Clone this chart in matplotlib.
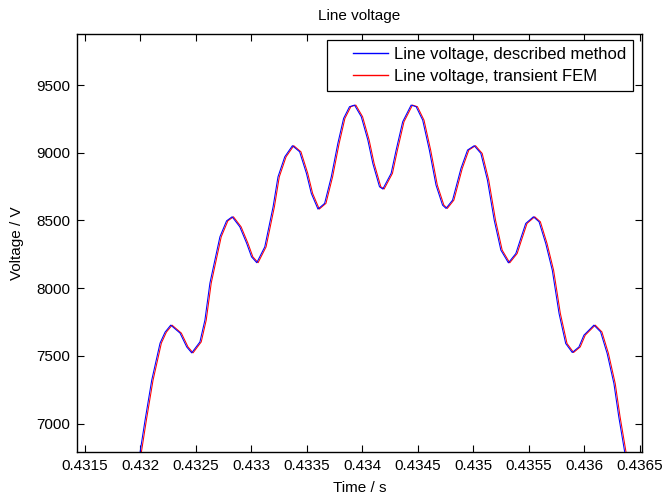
import matplotlib
matplotlib.use("Agg")
import matplotlib.pyplot as plt
import numpy as np
from matplotlib.ticker import FuncFormatter

plt.rcParams['font.family'] = ['Liberation Sans', 'DejaVu Sans']

# Line voltage around the positive half period (time in s, voltage in V)
t_described = [0.431955, 0.432000, 0.432045, 0.432105, 0.432180, 0.432225, 0.432276, 0.432360, 0.432420, 0.432465,
               0.432539, 0.432584, 0.432629, 0.432719, 0.432779, 0.432829, 0.432898, 0.432959, 0.433004, 0.433051,
               0.433123, 0.433198, 0.433242, 0.433303, 0.433372, 0.433437, 0.433498, 0.433542, 0.433602, 0.433662,
               0.433722, 0.433781, 0.433833, 0.433886, 0.433931, 0.433992, 0.434051, 0.434096, 0.434156, 0.434186,
               0.434261, 0.434306, 0.434365, 0.434441, 0.434486, 0.434545, 0.434605, 0.434665, 0.434724, 0.434755,
               0.434814, 0.434890, 0.434949, 0.435009, 0.435069, 0.435128, 0.435189, 0.435249, 0.435317, 0.435384,
               0.435428, 0.435473, 0.435542, 0.435593, 0.435653, 0.435712, 0.435773, 0.435833, 0.435892, 0.435952,
               0.435997, 0.436087, 0.436147, 0.436206, 0.436267, 0.436311, 0.436365, 0.436401]
v_described = [6552, 6788, 7025, 7320, 7594, 7675, 7727, 7668, 7566, 7522,
               7603, 7764, 8037, 8379, 8497, 8527, 8453, 8333, 8231, 8188,
               8305, 8601, 8822, 8970, 9052, 9007, 8848, 8700, 8584, 8626,
               8822, 9069, 9254, 9340, 9352, 9266, 9094, 8921, 8749, 8732,
               8848, 9020, 9229, 9352, 9340, 9241, 9020, 8761, 8613, 8589,
               8650, 8885, 9020, 9052, 8995, 8798, 8503, 8281, 8187, 8256,
               8367, 8478, 8527, 8490, 8330, 8133, 7813, 7591, 7525, 7566,
               7653, 7727, 7677, 7518, 7296, 7049, 6786, 6596]

t_fem = [0.431967, 0.432012, 0.432057, 0.432117, 0.432192, 0.432237, 0.432288, 0.432372, 0.432432, 0.432477,
         0.432551, 0.432596, 0.432641, 0.432731, 0.432791, 0.432841, 0.432910, 0.432971, 0.433016, 0.433063,
         0.433135, 0.433210, 0.433254, 0.433315, 0.433384, 0.433449, 0.433510, 0.433554, 0.433614, 0.433674,
         0.433734, 0.433793, 0.433845, 0.433898, 0.433943, 0.434004, 0.434063, 0.434108, 0.434168, 0.434198,
         0.434273, 0.434318, 0.434377, 0.434453, 0.434498, 0.434557, 0.434617, 0.434677, 0.434736, 0.434767,
         0.434826, 0.434902, 0.434961, 0.435021, 0.435081, 0.435140, 0.435201, 0.435261, 0.435329, 0.435396,
         0.435440, 0.435485, 0.435554, 0.435605, 0.435665, 0.435724, 0.435785, 0.435845, 0.435904, 0.435964,
         0.436009, 0.436099, 0.436159, 0.436218, 0.436279, 0.436323, 0.436377, 0.436413]
v_fem = [6552, 6788, 7025, 7320, 7594, 7675, 7727, 7668, 7566, 7522,
         7603, 7764, 8037, 8379, 8497, 8527, 8453, 8333, 8231, 8188,
         8305, 8601, 8822, 8970, 9052, 9007, 8848, 8700, 8584, 8626,
         8822, 9069, 9254, 9340, 9352, 9266, 9094, 8921, 8749, 8732,
         8848, 9020, 9229, 9352, 9340, 9241, 9020, 8761, 8613, 8589,
         8650, 8885, 9020, 9052, 8995, 8798, 8503, 8281, 8187, 8256,
         8367, 8478, 8527, 8490, 8330, 8133, 7813, 7591, 7525, 7566,
         7653, 7727, 7677, 7518, 7296, 7049, 6786, 6596]

x_ticks = [0.4315, 0.432, 0.4325, 0.433, 0.4335, 0.434, 0.4345, 0.435, 0.4355, 0.436, 0.4365]
y_ticks = [7000, 7500, 8000, 8500, 9000, 9500]

fig = plt.figure(figsize=(6.67, 4.94), dpi=100)
ax = fig.add_axes([0.1154, 0.0850, 0.8471, 0.8462])

fem_line, = ax.plot(t_fem, v_fem, color='red', lw=0.75, zorder=2)
desc_line, = ax.plot(t_described, v_described, color='blue', lw=0.75, zorder=3)

ax.set_xlim(0.431432, 0.43652)
ax.set_ylim(6790, 9877)
ax.set_xticks(x_ticks)
ax.set_yticks(y_ticks)
ax.xaxis.set_major_formatter(FuncFormatter(lambda v, p: '%g' % v))
ax.tick_params(direction='in', length=5, width=0.8, top=True, right=True,
               labelsize=11, pad=5, colors='black')
for s in ax.spines.values():
    s.set_linewidth(1.0)

ax.set_title('Line voltage', fontsize=11, pad=10)
ax.set_xlabel('Time / s', fontsize=11, labelpad=6)
ax.set_ylabel('Voltage / V', fontsize=11, labelpad=9)

leg = ax.legend([desc_line, fem_line],
                ['Line voltage, described method', 'Line voltage, transient FEM'],
                loc='upper right', bbox_to_anchor=(0.984, 0.9856), borderaxespad=0,
                fontsize=12, fancybox=False, framealpha=1, edgecolor='black',
                handlelength=3.3, handletextpad=0.35, labelspacing=0.45, borderpad=0.4)
leg.get_frame().set_linewidth(0.9)

# shorten the sample lines so they start a bit in from the frame
for ln, src in zip(leg.get_lines(), [desc_line, fem_line]):
    xd = np.asarray(ln.get_xdata(), dtype=float)
    x0, x1 = xd[0] + 0.36 * (xd[-1] - xd[0]), xd[-1]
    ln.set_xdata(np.linspace(x0, x1, len(xd)))
    ln.set_color(src.get_color())
    ln.set_linewidth(1.0)

fig.savefig('out.png', dpi=100)
